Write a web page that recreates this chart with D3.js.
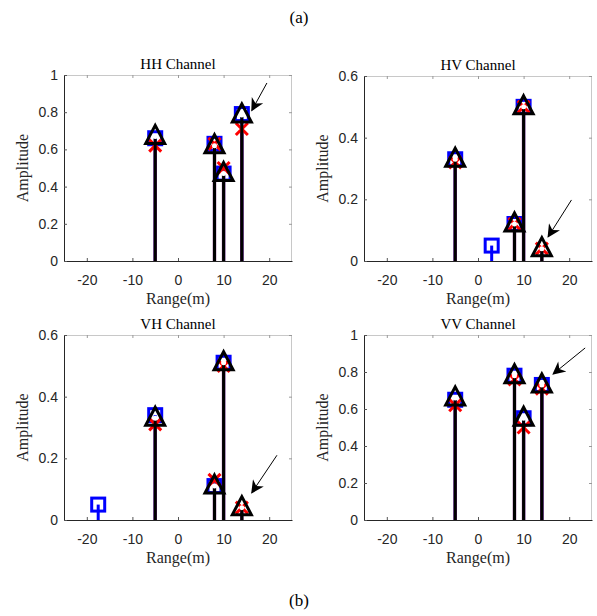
<!DOCTYPE html>
<html>
<head>
<meta charset="utf-8">
<script src="https://d3js.org/d3.v7.min.js"></script>
<style>
body { margin: 0; background: white; }
.tick text { font-family: "Liberation Sans", Arial, sans-serif; font-size: 14px; fill: #262626; }
.ttl { font-family: "Liberation Serif", "Times New Roman", serif; font-size: 15px; fill: black; }
.lab { font-family: "Liberation Serif", "Times New Roman", serif; font-size: 16px; fill: #262626; }
.cap { font-family: "Liberation Serif", "Times New Roman", serif; font-size: 17px; fill: black; }
</style>
</head>
<body>
<svg id="fig" width="597" height="616"></svg>
<script>
// chart data
var channels = ["HH Channel", "HV Channel", "VH Channel", "VV Channel"];
var rangeTicks = [-20, -10, 0, 10, 20];
var yMax = [1, 0.6, 0.6, 1];
var yTicks = [[0, 0.2, 0.4, 0.6, 0.8, 1], [0, 0.2, 0.4, 0.6], [0, 0.2, 0.4, 0.6], [0, 0.2, 0.4, 0.6, 0.8, 1]];

// blue squares
var sqRange = [[-5, 8, 10, 14], [-5, 3, 8, 10], [-17.5, -5, 8, 10], [-5, 8, 10, 14]];
var sqAmp   = [[0.66, 0.63, 0.47, 0.79], [0.33, 0.05, 0.12, 0.5], [0.05, 0.34, 0.11, 0.51], [0.65, 0.78, 0.55, 0.73]];
// red crosses
var xRange = [[-5, 8, 10, 14], [-5, 8, 10, 14], [-5, 8, 10, 14], [-5, 8, 10, 14]];
var xAmp   = [[0.62, 0.63, 0.5, 0.71], [0.32, 0.12, 0.5, 0.04], [0.31, 0.13, 0.5, 0.04], [0.62, 0.76, 0.5, 0.71]];
// black triangles
var triRange = [[-5, 8, 10, 14], [-5, 8, 10, 14], [-5, 8, 10, 14], [-5, 8, 10, 14]];
var triAmp   = [[0.67, 0.62, 0.47, 0.785], [0.33, 0.12, 0.5, 0.04], [0.33, 0.11, 0.51, 0.04], [0.66, 0.78, 0.55, 0.73]];

// arrows: [x0, y0, x1(head), y1(head)]
var arrows = [[19.5, 0.957, 16.2, 0.81], [20.5, 0.198, 15.4, 0.079], [21.7, 0.21, 16.2, 0.089], [23.5, 0.93, 16.5, 0.79]];

var svg = d3.select("#fig");

svg.append("text").attr("class", "cap").attr("x", 299).attr("y", 23).attr("text-anchor", "middle").text("(a)");
svg.append("text").attr("class", "cap").attr("x", 299).attr("y", 606).attr("text-anchor", "middle").text("(b)");

svg.append("defs").append("marker")
  .attr("id", "head").attr("viewBox", "0 0 10 10").attr("refX", 9).attr("refY", 5)
  .attr("markerWidth", 16).attr("markerHeight", 13).attr("markerUnits", "userSpaceOnUse")
  .attr("orient", "auto")
  .append("path").attr("d", "M0,0 L10,5 L0,10 L3,5 Z").attr("fill", "black");

var lefts = [64, 364, 64, 364];
var tops = [75, 76, 335, 335];
var W = 228;
var Hs = [186, 185, 185, 185];
var fmt = function(d) { return String(d); };

function drawPanel(i) {
  var g = svg.append("g").attr("transform", "translate(" + lefts[i] + "," + tops[i] + ")");
  var H = Hs[i];
  var x = d3.scaleLinear().domain([-25, 25]).range([0, W]);
  var y = d3.scaleLinear().domain([0, yMax[i]]).range([H, 0]);

  // box (top/right light)
  g.append("line").attr("x1", 0).attr("x2", W).attr("y1", 0.5).attr("y2", 0.5).attr("stroke", "#c8c8c8");
  g.append("line").attr("x1", W - 0.5).attr("x2", W - 0.5).attr("y1", 0).attr("y2", H).attr("stroke", "#c8c8c8");
  g.append("g").call(d3.axisTop(x).tickValues(rangeTicks).tickSize(-3).tickFormat(""))
    .call(function(s) { s.select(".domain").remove(); s.selectAll("line").attr("stroke", "#999"); });
  g.append("g").attr("transform", "translate(" + W + ",0)")
    .call(d3.axisRight(y).tickValues(yTicks[i]).tickSize(-3).tickFormat(""))
    .call(function(s) { s.select(".domain").remove(); s.selectAll("line").attr("stroke", "#999"); });

  var xa = g.append("g").attr("transform", "translate(0," + H + ")")
    .call(d3.axisBottom(x).tickValues(rangeTicks).tickSize(-3).tickSizeOuter(0).tickPadding(14).tickFormat(fmt));
  xa.select(".domain").attr("stroke", "#262626");
  xa.selectAll("line").attr("stroke", "#555");
  var ya = g.append("g")
    .call(d3.axisLeft(y).tickValues(yTicks[i]).tickSize(-3).tickSizeOuter(0).tickPadding(6).tickFormat(fmt));
  ya.select(".domain").attr("stroke", "#262626");
  ya.selectAll("line").attr("stroke", "#555");

  g.append("text").attr("class", "ttl").attr("x", W / 2).attr("y", -6).attr("text-anchor", "middle").text(channels[i]);
  g.append("text").attr("class", "lab").attr("x", W / 2).attr("y", H + 43).attr("text-anchor", "middle").text("Range(m)");
  g.append("text").attr("class", "lab").attr("transform", "translate(-36," + (H / 2) + ") rotate(-90)")
    .attr("text-anchor", "middle").text("Amplitude");

  // blue squares
  var sq = sqRange[i].map(function(r, k) { return [r, sqAmp[i][k]]; });
  g.selectAll(".sqs").data(sq).enter().append("line")
    .attr("x1", function(d) { return x(d[0]); }).attr("x2", function(d) { return x(d[0]); })
    .attr("y1", y(0)).attr("y2", function(d) { return y(d[1]); })
    .attr("stroke", "blue").attr("stroke-width", 3);
  g.selectAll(".sqm").data(sq).enter().append("rect")
    .attr("x", function(d) { return x(d[0]) - 6.5; }).attr("y", function(d) { return y(d[1]) - 6.5; })
    .attr("width", 13).attr("height", 13)
    .attr("fill", "none").attr("stroke", "blue").attr("stroke-width", 3);

  // red crosses
  var xs = xRange[i].map(function(r, k) { return [r, xAmp[i][k]]; });
  g.selectAll(".xs").data(xs).enter().append("line")
    .attr("x1", function(d) { return x(d[0]); }).attr("x2", function(d) { return x(d[0]); })
    .attr("y1", y(0)).attr("y2", function(d) { return y(d[1]); })
    .attr("stroke", "#7a2a7a").attr("stroke-width", 3.5);
  g.selectAll(".xm").data(xs).enter().append("path")
    .attr("transform", function(d) { return "translate(" + x(d[0]) + "," + y(d[1]) + ")"; })
    .attr("d", "M-6,-6L6,6M-6,6L6,-6")
    .attr("fill", "none").attr("stroke", "red").attr("stroke-width", 3);

  // black triangles
  var tr = triRange[i].map(function(r, k) { return [r, triAmp[i][k]]; });
  g.selectAll(".ts").data(tr).enter().append("line")
    .attr("x1", function(d) { return x(d[0]); }).attr("x2", function(d) { return x(d[0]); })
    .attr("y1", y(0)).attr("y2", function(d) { return y(d[1]); })
    .attr("stroke", "black").attr("stroke-width", 3);
  g.selectAll(".tm").data(tr).enter().append("path")
    .attr("transform", function(d) { return "translate(" + x(d[0]) + "," + y(d[1]) + ")"; })
    .attr("d", "M0,-11L9.5,7L-9.5,7Z")
    .attr("fill", "none").attr("stroke", "black").attr("stroke-width", 3).attr("stroke-linejoin", "miter");
  g.selectAll(".td").data(tr).enter().append("circle")
    .attr("cx", function(d) { return x(d[0]); }).attr("cy", function(d) { return y(d[1]); })
    .attr("r", 2.5).attr("fill", "white");

  // arrow
  var a = arrows[i];
  g.append("line")
    .attr("x1", x(a[0])).attr("y1", y(a[1])).attr("x2", x(a[2])).attr("y2", y(a[3]))
    .attr("stroke", "black").attr("stroke-width", 1)
    .attr("marker-end", "url(#head)");
}

for (var i = 0; i < 4; i++) drawPanel(i);
</script>
</body>
</html>
